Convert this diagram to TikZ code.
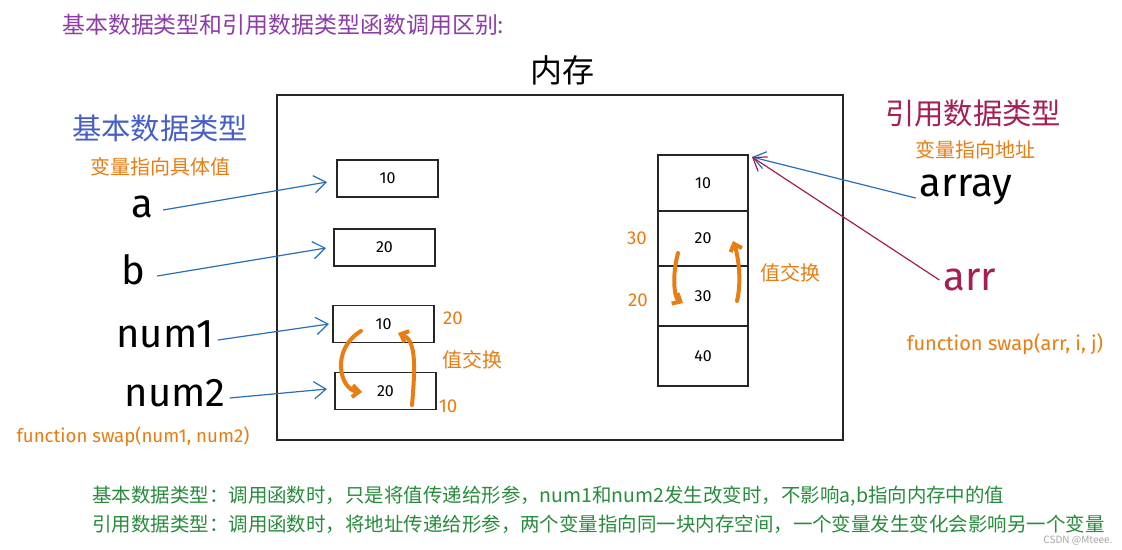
\documentclass[tikz,border=0pt]{standalone}
\usepackage{fontspec}
\setmainfont{Noto Sans CJK SC}
\newfontfamily\latinfont{Fira Sans}
\usetikzlibrary{arrows.meta}
\definecolor{cpurple}{RGB}{142,60,170}
\definecolor{cblue}{RGB}{70,95,200}
\definecolor{corange}{RGB}{232,125,20}
\definecolor{ccrimson}{RGB}{165,30,85}
\definecolor{cgreen}{RGB}{40,140,60}
\definecolor{carrow}{RGB}{40,110,185}
\newlength{\pxu}
\setlength{\pxu}{0.75pt}
\tikzset{
  cell/.style={draw=black!85, line width=1.1pt, minimum width=101\pxu, minimum height=37\pxu, inner sep=0pt, font=\latinfont\fontsize{12}{12}\selectfont},
  acell/.style={draw=black!85, line width=1.1pt, minimum width=90\pxu, inner sep=0pt, font=\latinfont\fontsize{12}{12}\selectfont},
  hand/.style={font=\latinfont\fontsize{30}{30}\selectfont, inner sep=0pt},
  ptr/.style={draw=carrow, line width=0.9pt, -{Straight Barb[length=9pt,width=13pt]}},
  ptrr/.style={draw=ccrimson, line width=0.9pt, -{Straight Barb[length=9pt,width=13pt]}},
  swaparrow/.style={draw=corange, line width=3pt, line cap=round, -{Straight Barb[length=5pt,width=9pt,line width=3pt]}},
  note/.style={text=corange, font=\fontsize{15}{15}\selectfont, inner sep=0pt},
  hnote/.style={text=corange, font=\latinfont\fontsize{14}{14}\selectfont, inner sep=0pt},
  bigtitle/.style={font=\fontsize{22}{22}\selectfont, inner sep=0pt},
  summary/.style={text=cgreen, font=\fontsize{14.6}{14.6}\selectfont, inner sep=0pt, anchor=west},
}
\begin{document}
\begin{tikzpicture}[x=0.75pt, y=-0.75pt]
\useasboundingbox[fill=white] (0,0) rectangle (1122,550);
% title
\node[text=cpurple, font=\fontsize{17.2}{17.2}\selectfont, anchor=west, inner sep=0pt] (title) at (62,25) {基本数据类型和引用数据类型函数调用区别:};
\node[font=\fontsize{24}{24}\selectfont, inner sep=0pt] (mem) at (562,70) {内存};
\node[draw=black!85, line width=1.1pt, minimum width=566\pxu, minimum height=345\pxu, inner sep=0pt] (frame) at (560,267.5) {};
% left header
\node[bigtitle, text=cblue] (basic) at (160,128) {基本数据类型};
\node[note] (basicsub) at (160,167) {变量指向具体值};
% variables
\node[hand] (va) at (142,207) {a};
\node[hand] (vb) at (133,270) {b};
\node[hand] (vn1) at (165,334) {num1};
\node[hand] (vn2) at (175,393) {num2};
% cells
\node[cell] (c1) at (387.5,178.5) {10};
\node[cell] (c2) at (384.5,247.5) {20};
\node[cell] (c3) at (383.5,324) {10};
\node[cell] (c4) at (385.5,391) {20};
% pointers
\coordinate (pa) at (327,182);
\coordinate (pb) at (326,248);
\coordinate (pn1) at (329,324);
\coordinate (pn2) at (327,389);
\draw[ptr] (va.east) ++(10,3) -- (pa);
\draw[ptr] (vb.east) ++(12,6) -- (pb);
\draw[ptr] (vn1.east) ++(4,6) -- (pn1);
\draw[ptr] (vn2.east) ++(4,5) -- (pn2);
% swap left
\coordinate (s1a) at (361,331);
\coordinate (s1b) at (362,392);
\coordinate (s2a) at (412,405);
\coordinate (s2b) at (398,333);
\draw[swaparrow] (s1a) .. controls (330,350) and (340,390) .. (s1b);
\draw[swaparrow] (s2a) .. controls (416,360) and (415,340) .. (s2b);
\node[hnote] (n20) at (453,318) {20};
\node[hnote] (n10) at (448,406) {10};
\node[note] (xch1) at (472,360) {值交换};
\node[hnote] (fn1) at (133,437) {function swap(num1, num2)};
% array
\node[acell, minimum height=56\pxu] (r1) at (703,183) {10};
\node[acell, minimum height=55\pxu] (r2) at (703,238.5) {20};
\node[acell, minimum height=60\pxu] (r3) at (703,296) {30};
\node[acell, minimum height=60\pxu] (r4) at (703,356) {40};
\node[hnote] (o30) at (637,238) {30};
\node[hnote] (o20) at (638,300) {20};
\draw[swaparrow] (678,253) .. controls (672,275) and (674,298) .. (683,303);
\draw[swaparrow] (737,301) .. controls (742,280) and (738,255) .. (733,241);
\node[note] (xch2) at (790,273) {值交换};
% right header
\node[bigtitle, text=ccrimson] (refh) at (973,113) {引用数据类型};
\node[note] (refsub) at (975,150) {变量指向地址};
\node[hand] (varr) at (966,190) {array};
\node[hand, text=ccrimson] (varr2) at (970,280) {arr};
\coordinate (pt) at (752,157);
\draw[ptr] (varr.west) ++(-4,8) -- (pt);
\draw[ptrr] (varr2.west) ++(-4,0) -- (pt);
\node[hnote, font=\latinfont\fontsize{15}{15}\selectfont] (fn2) at (1005,344) {function swap(arr, i, j)};
% summary
\node[summary] (sum1) at (92,496) {基本数据类型：调用函数时，只是将值传递给形参，num1和num2发生改变时，不影响a,b指向内存中的值};
\node[summary] (sum2) at (92,524) {引用数据类型：调用函数时，将地址传递给形参，两个变量指向同一块内存空间，一个变量发生变化会影响另一个变量};
\node[text=black!35, font=\fontsize{7.5}{7.5}\selectfont, inner sep=0pt] (csdn) at (1078,541) {CSDN @Mteee.};
\end{tikzpicture}
\end{document}
